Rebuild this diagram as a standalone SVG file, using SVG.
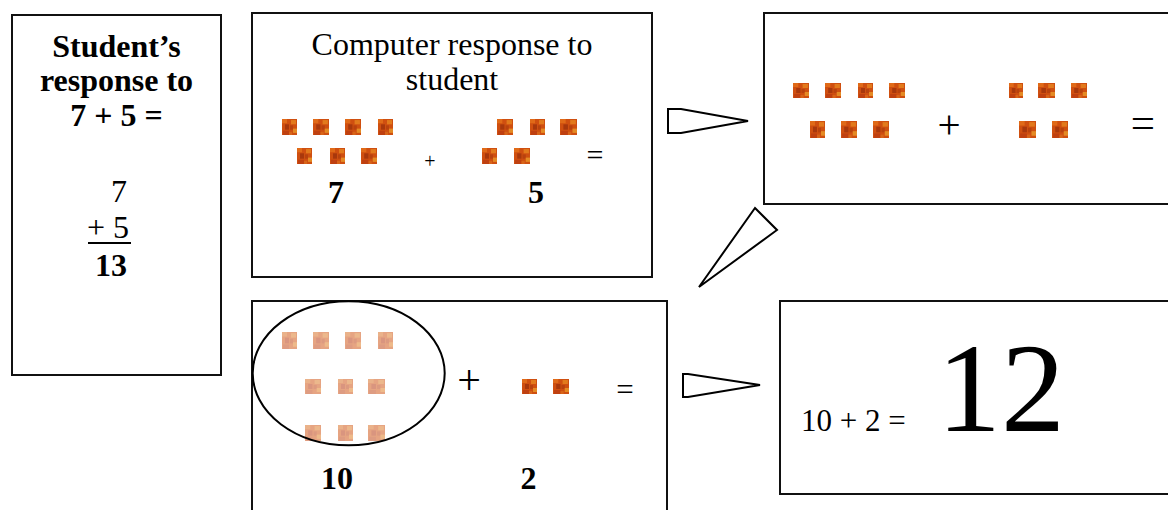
<svg xmlns="http://www.w3.org/2000/svg" xmlns:xlink="http://www.w3.org/1999/xlink" width="1168" height="510" viewBox="0 0 1168 510">
<style>
.box{fill:#fff;stroke:#111;stroke-width:2}
.arr{fill:#fff;stroke:#000;stroke-width:2;stroke-linejoin:miter}
.t{font-family:"Liberation Serif","Times New Roman",serif;fill:#000}
.b{font-weight:bold}
.m{text-anchor:middle}
</style>
<defs>
<symbol id="tile" viewBox="0 0 15 15" preserveAspectRatio="none">
<rect width="15" height="15" fill="#cf4f10"/>
<rect x="0" y="0" width="5" height="4" fill="#e06a18"/>
<rect x="9" y="1" width="5" height="4" fill="#e27a1c"/>
<rect x="3" y="5" width="4" height="5" fill="#a8380c"/>
<rect x="8" y="6" width="3" height="4" fill="#b8420e"/>
<rect x="11" y="9" width="4" height="4" fill="#e48a24"/>
<rect x="1" y="11" width="6" height="4" fill="#bf4010"/>
<rect x="7" y="12" width="3" height="3" fill="#d86418"/>
</symbol>
<symbol id="fade" viewBox="0 0 15 15" preserveAspectRatio="none">
<rect width="15" height="15" fill="#e6a482"/>
<rect x="0" y="0" width="5" height="4" fill="#eab28a"/>
<rect x="9" y="1" width="5" height="4" fill="#ecb88c"/>
<rect x="3" y="5" width="4" height="5" fill="#d9957f"/>
<rect x="8" y="6" width="3" height="4" fill="#dc9a80"/>
<rect x="11" y="9" width="4" height="4" fill="#eeba8a"/>
<rect x="1" y="11" width="6" height="4" fill="#de9c82"/>
</symbol>
</defs>
<rect width="1168" height="510" fill="#fff"/>

<g id="student">
<rect class="box" x="12" y="15" width="209" height="360"/>
<text class="t b m" font-size="32" x="116.5" y="57">Student’s</text>
<text class="t b m" font-size="32" x="116.5" y="91">response to</text>
<text class="t b m" font-size="32" x="116.5" y="126">7 + 5 =</text>
<text class="t" font-size="32" x="111" y="202">7</text>
<text class="t" font-size="32" x="87" y="238">+ 5</text>
<line x1="88" y1="243" x2="131" y2="243" stroke="#000" stroke-width="2"/>
<text class="t b" font-size="32" x="95" y="276">13</text>
</g>

<g id="computer">
<rect class="box" x="252" y="13" width="400" height="264"/>
<text class="t m" font-size="32" x="452" y="55">Computer response to</text>
<text class="t m" font-size="32" x="452" y="90">student</text>
<g>
<use href="#tile" x="282" y="119" width="15" height="16"/>
<use href="#tile" x="313" y="119" width="16" height="16"/>
<use href="#tile" x="345" y="119" width="16" height="16"/>
<use href="#tile" x="378" y="119" width="15" height="16"/>
<use href="#tile" x="297" y="148" width="15" height="16"/>
<use href="#tile" x="330" y="148" width="15" height="16"/>
<use href="#tile" x="361" y="148" width="16" height="16"/>
<use href="#tile" x="497" y="119" width="16" height="16"/>
<use href="#tile" x="530" y="119" width="15" height="16"/>
<use href="#tile" x="560" y="119" width="17" height="16"/>
<use href="#tile" x="482" y="148" width="15" height="16"/>
<use href="#tile" x="514" y="148" width="16" height="16"/>
</g>
<text class="t m" font-size="20" x="430" y="168" fill="#333">+</text>
<text class="t m" font-size="30" x="595" y="165">=</text>
<text class="t b m" font-size="32" x="336" y="203">7</text>
<text class="t b m" font-size="32" x="536" y="203">5</text>
</g>

<g id="regroup">
<rect class="box" x="764" y="13" width="420" height="191"/>
<g>
<use href="#tile" x="793" y="83" width="16" height="15"/>
<use href="#tile" x="825" y="83" width="16" height="15"/>
<use href="#tile" x="858" y="83" width="15" height="15"/>
<use href="#tile" x="889" y="83" width="16" height="15"/>
<use href="#tile" x="810" y="121" width="15" height="17"/>
<use href="#tile" x="841" y="121" width="16" height="17"/>
<use href="#tile" x="873" y="121" width="16" height="17"/>
<use href="#tile" x="1009" y="83" width="14" height="15"/>
<use href="#tile" x="1038" y="83" width="17" height="15"/>
<use href="#tile" x="1071" y="83" width="16" height="15"/>
<use href="#tile" x="1019" y="121" width="17" height="17"/>
<use href="#tile" x="1052" y="121" width="16" height="17"/>
</g>
<text class="t m" font-size="41" x="949" y="138">+</text>
<text class="t m" font-size="43" x="1143" y="137">=</text>
</g>

<g id="ten">
<rect class="box" x="252" y="301" width="415" height="230"/>
<g>
<use href="#fade" x="282" y="332" width="15" height="17"/>
<use href="#fade" x="313" y="332" width="16" height="17"/>
<use href="#fade" x="345" y="332" width="16" height="17"/>
<use href="#fade" x="378" y="332" width="15" height="17"/>
<use href="#fade" x="305" y="379" width="16" height="15"/>
<use href="#fade" x="338" y="379" width="15" height="15"/>
<use href="#fade" x="368" y="379" width="17" height="15"/>
<use href="#fade" x="305" y="425" width="16" height="16"/>
<use href="#fade" x="338" y="425" width="15" height="16"/>
<use href="#fade" x="368" y="425" width="17" height="16"/>
<use href="#tile" x="522" y="379" width="15" height="15"/>
<use href="#tile" x="553" y="379" width="16" height="15"/>
</g>
<ellipse cx="348.7" cy="373.3" rx="96" ry="72" fill="none" stroke="#000" stroke-width="2"/>
<text class="t m" font-size="42" x="469" y="394">+</text>
<text class="t m" font-size="31" x="625" y="400">=</text>
<text class="t b m" font-size="32" x="337" y="489">10</text>
<text class="t b m" font-size="32" x="528.5" y="489">2</text>
</g>

<g id="answer">
<rect class="box" x="780" y="301" width="420" height="193"/>
<text class="t" font-size="31" x="801" y="431">10 + 2 =</text>
<text class="t" font-size="128" x="937" y="431">12</text>
</g>

<g id="connectors">
<polygon class="arr" points="668,109 681,109 748,121 681,133 668,133"/>
<polygon class="arr" points="755,208 777,230 699,287"/>
<polygon class="arr" points="683,374 688,374 760,385 688,397 683,397"/>
</g>
</svg>
